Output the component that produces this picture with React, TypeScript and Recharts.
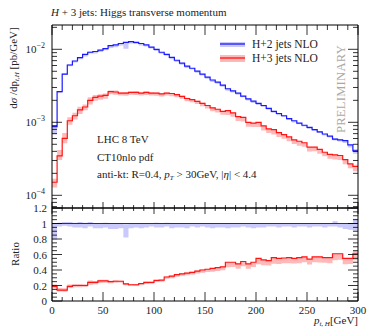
import React from 'react'
import { ComposedChart, Line, Area, XAxis, YAxis, ReferenceLine } from 'recharts'

const FONT = '"Liberation Serif", "DejaVu Serif", serif'

// lower bin edges, 5 GeV bins
const binEdges = [
  0, 5, 10, 15, 20, 25, 30, 35, 40, 45, 50, 55, 60, 65, 70, 75, 80, 85, 90, 95,
  100, 105, 110, 115, 120, 125, 130, 135, 140, 145, 150, 155, 160, 165, 170, 175, 180, 185, 190, 195,
  200, 205, 210, 215, 220, 225, 230, 235, 240, 245, 250, 255, 260, 265, 270, 275, 280, 285, 290, 295,
]
const lastEdge = 300

// H+2 jets NLO, pb/GeV
const h2jets = [
  8.7e-4, 2.63e-3, 4.57e-3, 6.1e-3, 6.92e-3, 7.67e-3, 8.51e-3, 9.12e-3, 9.33e-3, 9.77e-3,
  1.023e-2, 1.122e-2, 1.148e-2, 1.202e-2, 1.245e-2, 1.274e-2, 1.245e-2, 1.202e-2, 1.148e-2, 1.072e-2,
  1.0e-2, 9.12e-3, 8.51e-3, 7.76e-3, 7.08e-3, 6.46e-3, 5.89e-3, 5.5e-3, 5.01e-3, 4.57e-3,
  4.17e-3, 3.8e-3, 3.55e-3, 3.24e-3, 2.88e-3, 2.69e-3, 2.51e-3, 2.29e-3, 2.09e-3, 1.95e-3,
  1.82e-3, 1.7e-3, 1.55e-3, 1.41e-3, 1.32e-3, 1.23e-3, 1.12e-3, 1.05e-3, 9.77e-4, 9.12e-4,
  8.51e-4, 7.94e-4, 7.41e-4, 6.92e-4, 6.46e-4, 5.89e-4, 5.75e-4, 5.62e-4, 4.9e-4, 4.07e-4,
]

// H+3 jets NLO, pb/GeV
const h3jets = [
  1.51e-4, 3.47e-4, 6.03e-4, 1.05e-3, 1.23e-3, 1.48e-3, 1.62e-3, 2.0e-3, 2.19e-3, 2.29e-3,
  2.34e-3, 2.63e-3, 2.6e-3, 2.51e-3, 2.51e-3, 2.57e-3, 2.57e-3, 2.51e-3, 2.57e-3, 2.51e-3,
  2.51e-3, 2.45e-3, 2.51e-3, 2.48e-3, 2.4e-3, 2.26e-3, 2.12e-3, 2.04e-3, 1.93e-3, 1.82e-3,
  1.7e-3, 1.58e-3, 1.51e-3, 1.41e-3, 1.45e-3, 1.35e-3, 1.2e-3, 1.17e-3, 1.0e-3, 9.77e-4,
  1.0e-3, 8.91e-4, 8.13e-4, 7.94e-4, 7.24e-4, 6.76e-4, 6.31e-4, 5.75e-4, 5.5e-4, 5.25e-4,
  4.57e-4, 4.57e-4, 4.27e-4, 3.89e-4, 3.63e-4, 3.59e-4, 3.51e-4, 3.09e-4, 2.69e-4, 2.48e-4,
]

// ratio H+3 / H+2
const ratio3over2 = [
  0.19, 0.14, 0.14, 0.19, 0.2, 0.2, 0.2, 0.24, 0.24, 0.26,
  0.26, 0.25, 0.255, 0.255, 0.22, 0.21, 0.21, 0.225, 0.24, 0.24,
  0.265, 0.27, 0.31, 0.32, 0.34, 0.35, 0.36, 0.37, 0.385, 0.4,
  0.41, 0.42, 0.43, 0.44, 0.5, 0.5, 0.48, 0.51, 0.48, 0.5,
  0.55, 0.53, 0.52, 0.56, 0.55, 0.555, 0.56, 0.55, 0.56, 0.57,
  0.54, 0.57, 0.57, 0.56, 0.56, 0.61, 0.61, 0.55, 0.55, 0.61,
]

// relative scale-uncertainty bands
const h2BandLo = [
  0.79, 0.96, 0.97, 0.96, 0.95, 0.95, 0.94, 0.96, 0.94, 0.94,
  0.95, 0.93, 0.93, 0.94, 0.82, 0.94, 0.95, 0.94, 0.95, 0.96,
  0.95, 0.95, 0.96, 0.94, 0.95, 0.95, 0.94, 0.96, 0.95, 0.96,
  0.95, 0.94, 0.95, 0.95, 0.94, 0.95, 0.95, 0.96, 0.95, 0.94,
  0.95, 0.95, 0.96, 0.96, 0.95, 0.96, 0.96, 0.95, 0.96, 0.96,
  0.95, 0.96, 0.96, 0.95, 0.96, 0.96, 0.95, 0.93, 0.92, 0.91,
]
const h2BandHi = [
  1.0, 1.01, 1.02, 1.02, 1.01, 1.02, 1.01, 1.02, 1.0, 1.0,
  1.01, 1.0, 1.0, 1.0, 0.99, 1.0, 1.0, 1.0, 1.0, 1.0,
  1.01, 1.0, 1.01, 1.0, 1.0, 1.0, 1.0, 1.0, 1.0, 1.0,
  1.0, 1.0, 1.0, 1.0, 1.0, 1.0, 1.0, 1.0, 1.0, 1.0,
  1.0, 1.0, 1.0, 1.0, 1.0, 1.0, 1.0, 1.0, 1.0, 1.0,
  1.0, 1.0, 1.0, 1.0, 1.0, 1.03, 1.0, 1.0, 1.0, 1.06,
]
const h3BandLo = [
  0.85, 0.88, 0.86, 0.88, 0.89, 0.88, 0.9, 0.88, 0.9, 0.89,
  0.9, 0.92, 0.92, 0.93, 0.92, 0.93, 0.92, 0.93, 0.92, 0.93,
  0.92, 0.92, 0.93, 0.92, 0.92, 0.93, 0.92, 0.92, 0.92, 0.91,
  0.91, 0.9, 0.9, 0.9, 0.87, 0.88, 0.87, 0.88, 0.87, 0.88,
  0.86, 0.87, 0.88, 0.86, 0.87, 0.88, 0.87, 0.88, 0.87, 0.88,
  0.87, 0.88, 0.87, 0.88, 0.87, 0.86, 0.87, 0.86, 0.87, 0.86,
]
const h3BandHi = [
  1.12, 1.2, 1.18, 1.12, 1.1, 1.1, 1.08, 1.1, 1.08, 1.06,
  1.06, 1.04, 1.05, 1.03, 1.04, 1.03, 1.04, 1.03, 1.03, 1.03,
  1.02, 1.02, 1.02, 1.02, 1.02, 1.02, 1.02, 1.02, 1.02, 1.02,
  1.01, 1.01, 1.01, 1.01, 1.0, 1.0, 1.0, 1.0, 1.0, 1.0,
  1.0, 1.0, 1.0, 1.0, 1.0, 1.0, 1.0, 1.0, 1.0, 1.0,
  1.0, 1.0, 1.0, 1.0, 1.0, 1.0, 1.0, 1.0, 1.0, 1.06,
]

const xTicks = [0, 10, 20, 30, 40, 50, 60, 70, 80, 90, 100, 110, 120, 130, 140, 150, 160, 170, 180, 190, 200,
  210, 220, 230, 240, 250, 260, 270, 280, 290, 300]
const logTicks = [
  7e-5, 8e-5, 9e-5,
  1e-4, 2e-4, 3e-4, 4e-4, 5e-4, 6e-4, 7e-4, 8e-4, 9e-4,
  1e-3, 2e-3, 3e-3, 4e-3, 5e-3, 6e-3, 7e-3, 8e-3, 9e-3,
  1e-2, 2e-2,
]
const ratioTicks = [0, 0.05, 0.1, 0.15, 0.2, 0.25, 0.3, 0.35, 0.4, 0.45, 0.5, 0.55, 0.6,
  0.65, 0.7, 0.75, 0.8, 0.85, 0.9, 0.95, 1, 1.05, 1.1, 1.15, 1.2]

const BLUE = '#1a1aff'
const BLUE_BAND = '#c9c9fb'
const RED = '#ff1414'
const RED_BAND = '#ffb9b9'

// step histograms: one point per lower edge plus a closing point at 300
const idx = [...binEdges.map((_, i) => i), binEdges.length - 1]
const topData = idx.map((i, k) => ({
  x: k < binEdges.length ? binEdges[i] : lastEdge,
  h2: h2jets[i],
  h3: h3jets[i],
  h2band: [h2jets[i] * h2BandLo[i], h2jets[i] * h2BandHi[i]],
  h3band: [h3jets[i] * h3BandLo[i], h3jets[i] * h3BandHi[i]],
}))
const ratioData = idx.map((i, k) => ({
  x: k < binEdges.length ? binEdges[i] : lastEdge,
  r: ratio3over2[i],
  h2band: [h2BandLo[i], h2BandHi[i]],
  h3band: [ratio3over2[i] * h3BandLo[i], ratio3over2[i] * h3BandHi[i]],
}))

const isDecade = (v: number) => Math.abs(Math.log10(v) - Math.round(Math.log10(v))) < 1e-9
const isRatioMajor = (v: number) => Math.abs(v * 5 - Math.round(v * 5)) < 1e-9

// x tick: line drawn from the axis line inward; y is the axis line (tickSize 0)
const XTick = (props: any) => {
  const { x, y, payload, dir, big, small, label, base } = props
  const major = payload.value % 50 === 0
  const y0 = base ?? y
  return (
    <g>
      <line x1={x} x2={x} y1={y0} y2={y0 + dir * (major ? big : small)} stroke="#000" strokeWidth={0.8} />
      {label && major ? (
        <text x={x} y={y0 + 13} textAnchor="middle" fontSize={11} fontFamily={FONT} fill="#222">
          {payload.value}
        </text>
      ) : null}
    </g>
  )
}

const LogTick = (props: any) => {
  const { x, y, payload, dir, label } = props
  const v = payload.value
  const dec = isDecade(v)
  const exp = Math.round(Math.log10(v))
  return (
    <g>
      <line x1={x} x2={x + dir * (dec ? 10 : 5)} y1={y} y2={y} stroke="#000" strokeWidth={0.8} />
      {label && dec ? (
        <text x={x - 7} y={y + 4} textAnchor="end" fontSize={11} fontFamily={FONT} fill="#222">
          10<tspan dy={-5} fontSize={8}>{'\u2212' + Math.abs(exp)}</tspan>
        </text>
      ) : null}
    </g>
  )
}

const RatioTick = (props: any) => {
  const { x, y, payload, dir, label } = props
  const v = payload.value
  const major = isRatioMajor(v)
  const txt = v === 0 || v === 1 ? String(v) : v.toFixed(1)
  return (
    <g>
      <line x1={x} x2={x + dir * (major ? 10 : 5)} y1={y} y2={y} stroke="#000" strokeWidth={0.8} />
      {label && major ? (
        <text x={x - 5} y={y + 4} textAnchor="end" fontSize={11} fontFamily={FONT} fill="#222">
          {txt}
        </text>
      ) : null}
    </g>
  )
}

const axisLine = { stroke: '#000', strokeWidth: 1 }
const noTick = { tickSize: 0, tickMargin: 0, tickLine: false, interval: 0 as const }

const App = () => {
  return (
    <div style={{ position: 'absolute', left: 0, top: 0, width: 367, height: 327, background: '#fff' }}>
      <div style={{ position: 'absolute', left: 0, top: 0 }}>
        <ComposedChart width={367} height={216} data={topData} margin={{ top: 24, right: 0, bottom: 7, left: 0 }}>
          <XAxis xAxisId="b" dataKey="x" type="number" domain={[0, 300]} ticks={xTicks} height={1}
            axisLine={axisLine} {...noTick} tick={(p: any) => <XTick {...p} base={208} dir={-1} big={6} small={3} />} />
          <XAxis xAxisId="t" orientation="top" dataKey="x" type="number" domain={[0, 300]} ticks={xTicks} height={1}
            axisLine={axisLine} {...noTick} tick={(p: any) => <XTick {...p} base={25} dir={1} big={10} small={5} />} />
          <YAxis yAxisId="l" type="number" scale="log" domain={[6.7e-5, 0.02153]} allowDataOverflow ticks={logTicks}
            width={52} axisLine={axisLine} {...noTick} tick={(p: any) => <LogTick {...p} dir={1} label />} />
          <YAxis yAxisId="r" orientation="right" type="number" scale="log" domain={[6.7e-5, 0.02153]} allowDataOverflow
            ticks={logTicks} width={9} axisLine={axisLine} {...noTick} tick={(p: any) => <LogTick {...p} dir={-1} />} />
          <Area xAxisId="b" yAxisId="l" dataKey="h2band" type="stepAfter" stroke="none" fill={BLUE_BAND}
            fillOpacity={1} isAnimationActive={false} />
          <Area xAxisId="b" yAxisId="l" dataKey="h3band" type="stepAfter" stroke="none" fill={RED_BAND}
            fillOpacity={1} isAnimationActive={false} />
          <Line xAxisId="b" yAxisId="l" dataKey="h2" type="stepAfter" stroke={BLUE} strokeWidth={1.2} dot={false}
            isAnimationActive={false} />
          <Line xAxisId="b" yAxisId="l" dataKey="h3" type="stepAfter" stroke={RED} strokeWidth={1.2} dot={false}
            isAnimationActive={false} />
        </ComposedChart>
      </div>
      <div style={{ position: 'absolute', left: 0, top: 200 }}>
        <ComposedChart width={367} height={127} data={ratioData} margin={{ top: 7, right: 0, bottom: 25, left: 0 }}>
          <XAxis xAxisId="b" dataKey="x" type="number" domain={[0, 300]} ticks={xTicks} height={1}
            axisLine={axisLine} {...noTick} tick={(p: any) => <XTick {...p} base={101} dir={-1} big={9} small={4} label />} />
          <XAxis xAxisId="t" orientation="top" dataKey="x" type="number" domain={[0, 300]} ticks={xTicks} height={1}
            axisLine={axisLine} {...noTick} tick={(p: any) => <XTick {...p} base={8} dir={1} big={6} small={3} />} />
          <YAxis yAxisId="l" type="number" domain={[0, 1.2]} allowDataOverflow ticks={ratioTicks} width={52}
            axisLine={axisLine} {...noTick} tick={(p: any) => <RatioTick {...p} dir={1} label />} />
          <YAxis yAxisId="r" orientation="right" type="number" domain={[0, 1.2]} allowDataOverflow ticks={ratioTicks}
            width={9} axisLine={axisLine} {...noTick} tick={(p: any) => <RatioTick {...p} dir={-1} />} />
          <Area xAxisId="b" yAxisId="l" dataKey="h2band" type="stepAfter" stroke="none" fill={BLUE_BAND}
            fillOpacity={1} isAnimationActive={false} />
          <Area xAxisId="b" yAxisId="l" dataKey="h3band" type="stepAfter" stroke="none" fill={RED_BAND}
            fillOpacity={1} isAnimationActive={false} />
          <ReferenceLine xAxisId="b" yAxisId="l" y={1} stroke={BLUE} strokeWidth={1.2} />
          <Line xAxisId="b" yAxisId="l" dataKey="r" type="stepAfter" stroke={RED} strokeWidth={1.2} dot={false}
            isAnimationActive={false} />
        </ComposedChart>
      </div>
      <svg width={367} height={327} style={{ position: 'absolute', left: 0, top: 0, pointerEvents: 'none' }}
        fontFamily={FONT} fill="#222">
        <text x={51} y={16} fontSize={11}>
          <tspan fontStyle="italic">H</tspan> + 3 jets: Higgs transverse momentum
        </text>
        <text transform="translate(17,68) rotate(-90)" textAnchor="middle" fontSize={11}>
          d<tspan fontStyle="italic">σ</tspan> /dp<tspan fontSize={7} dy={2} fontStyle="italic">t,H</tspan>
          <tspan dy={-2}> [pb/GeV]</tspan>
        </text>
        <text transform="translate(19,254) rotate(-90)" textAnchor="middle" fontSize={11}>Ratio</text>
        <text x={358} y={324} textAnchor="end" fontSize={11}>
          <tspan fontStyle="italic">p</tspan><tspan fontSize={7} dy={2} fontStyle="italic">t, H</tspan>
          <tspan dy={-2}>[GeV]</tspan>
        </text>
        <text x={97} y={143} fontSize={11}>LHC 8 TeV</text>
        <text x={97} y={161} fontSize={11}>CT10nlo pdf</text>
        <text x={97} y={178} fontSize={11}>
          anti-kt: R=0.4, <tspan fontStyle="italic">p</tspan><tspan fontSize={7} dy={2} fontStyle="italic">T</tspan>
          <tspan dy={-2}> &gt; 30GeV, |</tspan><tspan fontStyle="italic">η</tspan>| &lt; 4.4
        </text>
        <rect x={220} y={42} width={25} height={5} fill={BLUE_BAND} />
        <line x1={220} x2={245} y1={44} y2={44} stroke={BLUE} strokeWidth={1.3} />
        <text x={252} y={48} fontSize={11.5}>H+2 jets NLO</text>
        <rect x={220} y={55} width={25} height={7} fill={RED_BAND} />
        <line x1={220} x2={245} y1={58} y2={58} stroke={RED} strokeWidth={1.3} />
        <text x={252} y={62} fontSize={11.5}>H+3 jets NLO</text>
        <text transform="translate(345,89) rotate(-90)" textAnchor="middle" fontSize={12.5} fill="#a8a8a8"
          letterSpacing={0.3}>PRELIMINARY</text>
      </svg>
    </div>
  )
}

export default App
